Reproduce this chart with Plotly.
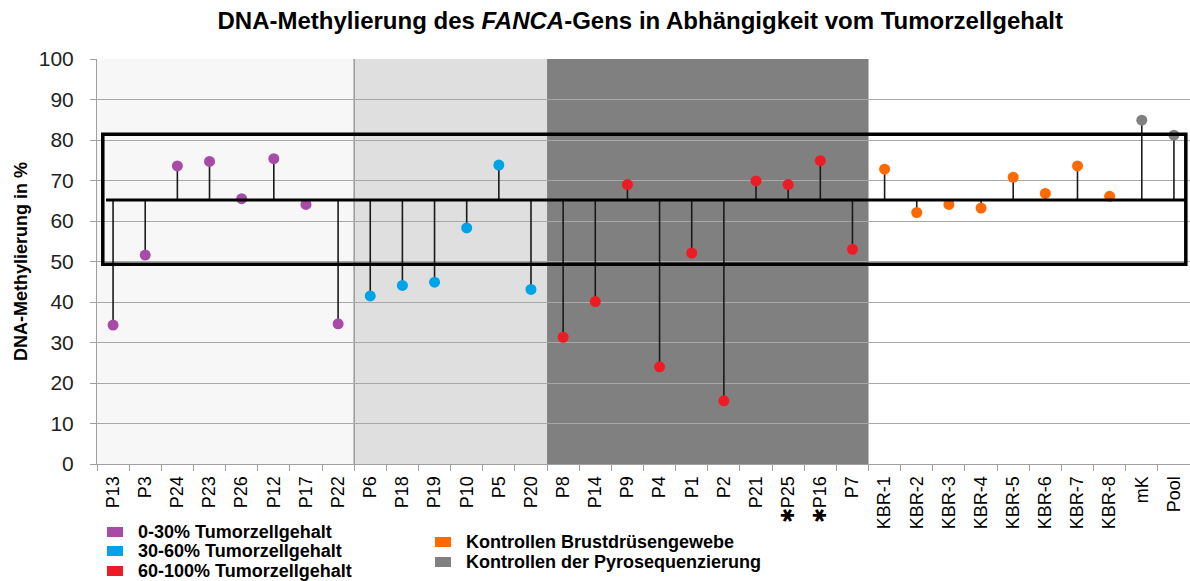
import plotly.graph_objects as go

# ---- data ----
cats_0_30 = ["P13", "P3", "P24", "P23", "P26", "P12", "P17", "P22"]
vals_0_30 = [34.3, 51.6, 73.6, 74.7, 65.5, 75.4, 64.1, 34.6]

cats_30_60 = ["P6", "P18", "P19", "P10", "P5", "P20"]
vals_30_60 = [41.5, 44.1, 44.9, 58.3, 73.8, 43.1]

cats_60_100 = ["P8", "P14", "P9", "P4", "P1", "P2", "P21", "P25", "P16", "P7"]
vals_60_100 = [31.3, 40.1, 69.0, 24.0, 52.1, 15.6, 69.9, 69.0, 74.9, 53.0]

cats_kbr = ["KBR-1", "KBR-2", "KBR-3", "KBR-4", "KBR-5", "KBR-6", "KBR-7", "KBR-8"]
vals_kbr = [72.8, 62.1, 64.1, 63.2, 70.8, 66.8, 73.6, 66.1]

cats_pyro = ["mK", "Pool"]
vals_pyro = [84.9, 81.2]

starred = ["P25", "P16"]          # labels marked with an asterisk
baseline = 65.2                   # reference methylation level (stem origin)
range_low, range_high = 49.3, 81.4  # reference range (box)

legend_labels = ["0-30% Tumorzellgehalt", "30-60% Tumorzellgehalt", "60-100% Tumorzellgehalt",
                 "Kontrollen Brustdrüsengewebe", "Kontrollen der Pyrosequenzierung"]

# ---- styles ----
colors = ["#a64ca6", "#00a2e8", "#ed1c24", "#ff6a00", "#808080"]
groups = [(cats_0_30, vals_0_30), (cats_30_60, vals_30_60), (cats_60_100, vals_60_100),
          (cats_kbr, vals_kbr), (cats_pyro, vals_pyro)]

categories = [c for g in groups for c in g[0]]
tick_labels = [("✱" + c) if c in starred else c for c in categories]
n = len(categories)

fig = go.Figure()

# stems
sx, sy = [], []
for cs, vs in groups:
    for c, v in zip(cs, vs):
        sx += [c, c, None]
        sy += [baseline, v, None]
fig.add_trace(go.Scatter(x=sx, y=sy, mode="lines", line=dict(color="#1a1a1a", width=1.6),
                         hoverinfo="skip", showlegend=False))

# markers
for (cs, vs), col, lab in zip(groups, colors, legend_labels):
    fig.add_trace(go.Scatter(x=cs, y=vs, mode="markers", name=lab,
                             marker=dict(color=col, size=11, symbol="circle", line=dict(width=0)),
                             showlegend=False))

# background regions
n1 = len(cats_0_30)
n2 = n1 + len(cats_30_60)
n3 = n2 + len(cats_60_100)
shapes = [
    dict(type="rect", xref="x", yref="paper", x0=-0.5, x1=n1 - 0.5, y0=0, y1=1,
         fillcolor="#f7f7f7", line=dict(width=0), layer="below"),
    dict(type="rect", xref="x", yref="paper", x0=n1 - 0.5, x1=n2 - 0.5, y0=0, y1=1,
         fillcolor="#dfdfdf", line=dict(width=0), layer="below"),
    dict(type="rect", xref="x", yref="paper", x0=n2 - 0.5, x1=n3 - 0.5, y0=0, y1=1,
         fillcolor="#808080", line=dict(width=0), layer="below"),
    dict(type="line", xref="x", yref="paper", x0=n1 - 0.5, x1=n1 - 0.5, y0=0, y1=1,
         line=dict(color="#9a9a9a", width=1.5), layer="below"),
    # reference range box
    dict(type="rect", xref="x", yref="y", x0=-0.32, x1=n - 0.63, y0=range_low, y1=range_high,
         line=dict(color="black", width=3.5), fillcolor="rgba(0,0,0,0)", layer="above"),
    # baseline
    dict(type="line", xref="x", yref="y", x0=-0.22, x1=n - 0.63, y0=baseline, y1=baseline,
         line=dict(color="black", width=3), layer="above"),
]

# legend (manual, two columns)
def py(p):  # pixel y -> paper y
    return (464 - p) / 405

def px(p):  # pixel x -> paper x
    return (p - 97) / 1093

legend_pos = [(107, 532), (107, 551), (107, 571), (435, 542), (435, 562)]
annotations = []
for (lx, ly), col, lab in zip(legend_pos, colors, legend_labels):
    shapes.append(dict(type="rect", xref="paper", yref="paper",
                       x0=px(lx), x1=px(lx + 16), y0=py(ly + 5), y1=py(ly - 5),
                       fillcolor=col, line=dict(width=0)))
    annotations.append(dict(xref="paper", yref="paper", x=px(lx + 29), y=py(ly),
                            xanchor="left", yanchor="middle", showarrow=False,
                            text="<b>" + lab + "</b>",
                            font=dict(family="Liberation Sans, Arial, sans-serif", size=18, color="black")))

fig.update_layout(
    width=1190, height=581,
    margin=dict(l=97, r=0, t=59, b=117),
    paper_bgcolor="white", plot_bgcolor="white",
    title=dict(text="<b>DNA-Methylierung des <i>FANCA</i>-Gens in Abhängigkeit vom Tumorzellgehalt</b>",
               x=0.538, xanchor="center", y=0.965, yanchor="middle",
               font=dict(family="Liberation Sans, Arial, sans-serif", size=24, color="black")),
    shapes=shapes, annotations=annotations, showlegend=False,
    xaxis=dict(type="category", categoryorder="array", categoryarray=categories,
               tickmode="array", tickvals=categories, ticktext=tick_labels,
               tickson="boundaries", ticks="outside", ticklen=6, tickcolor="#a0a0a0",
               tickangle=-90, showline=True, linecolor="#a0a0a0", linewidth=1,
               showgrid=False, range=[-0.5, n - 0.5], ticklabelstandoff=4,
               tickfont=dict(family="Liberation Sans, Arial, sans-serif", size=18, color="black")),
    yaxis=dict(range=[0, 100], dtick=10, ticks="outside", ticklen=6, tickcolor="#a0a0a0",
               showline=True, linecolor="#a0a0a0", linewidth=1,
               showgrid=True, gridcolor="#a8a8a8", gridwidth=1, zeroline=False,
               ticklabelstandoff=12,
               tickfont=dict(family="Liberation Sans, Arial, sans-serif", size=21, color="#222"),
               title=dict(text="<b>DNA-Methylierung in %</b>", standoff=6,
                          font=dict(family="Liberation Sans Narrow, Liberation Sans, Arial, sans-serif",
                                    size=18, color="black"))),
)

fig.write_html("out.html", config={"displayModeBar": False},
               post_script="document.body.style.margin='0';")
